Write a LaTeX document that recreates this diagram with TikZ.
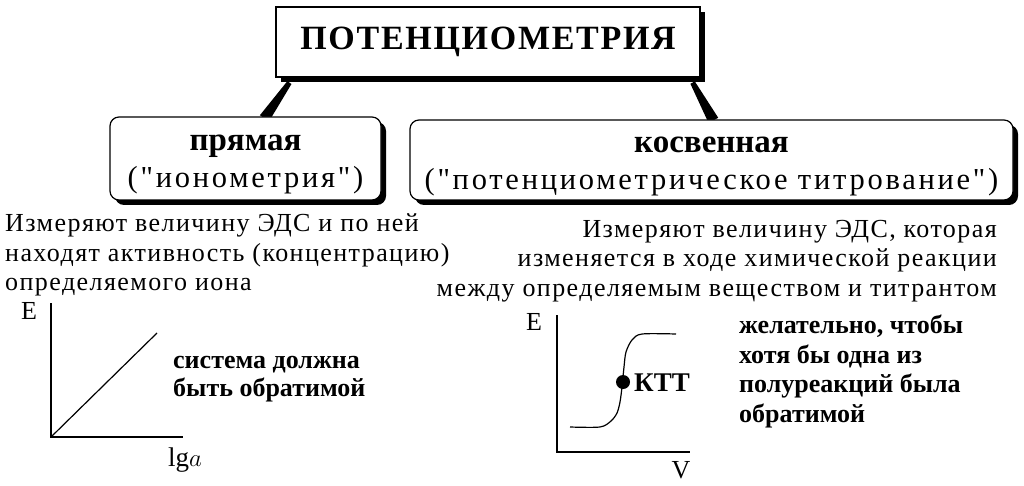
\documentclass[tikz,border=0pt]{standalone}
\usepackage{fontspec}
\setmainfont{Liberation Serif}
\newfontfamily\wideserif[LetterSpace=5.5]{Liberation Serif}
\newfontfamily\boxserif[LetterSpace=9]{Liberation Serif}
\newfontfamily\titleserif[LetterSpace=5]{Liberation Serif}
\usetikzlibrary{shadows, calc, backgrounds}

% tapered stem from the title down to a box
\newcommand{\stemwedge}[2]{%
  \fill ($(#1)!2.5pt!90:(#2)$) -- ($(#1)!2.5pt!-90:(#2)$)
     -- ($(#2)!5.5pt!90:(#1)$) -- ($(#2)!5.5pt!-90:(#1)$) -- cycle;}

\begin{document}
\begin{tikzpicture}[x=1pt, y=-1pt,
  box/.style={draw, line width=1.2pt, fill=white, inner sep=0pt,
    general shadow={fill=black, shadow xshift=5pt, shadow yshift=-5pt}},
  subbox/.style={box, rounded corners=9pt, align=center,
    font=\fontsize{30.5}{37}\selectfont\boxserif},
  axis/.style={line width=1.6pt},
  curve/.style={line width=1.2pt}]
  \useasboundingbox (0,0) rectangle (1024,486);

  \node[box, minimum width=424pt, minimum height=70pt] (title) at (488,42)
    {\fontsize{34}{40}\selectfont\titleserif\bfseries ПОТЕНЦИОМЕТРИЯ};

  \node[subbox, minimum width=271pt, minimum height=83pt] (direct) at (245.5,158.5)
    {\rule{0pt}{28pt}{\fontsize{33}{37}\selectfont\rmfamily\bfseries прямая}\\ ("ионометрия")};
  \node[subbox, minimum width=603pt, minimum height=80pt] (indirect) at (711.5,160)
    {\rule{0pt}{28pt}{\fontsize{33}{37}\selectfont\rmfamily\bfseries косвенная}\\ ("потенциометрическое титрование")};

  \coordinate (stemA) at ($(title.south west)+(14,5)$);
  \coordinate (stemB) at ($(direct.north west)+(155,2)$);
  \coordinate (stemC) at ($(title.south east)+(-8,5)$);
  \coordinate (stemD) at ($(indirect.north west)+(304,1)$);
  \begin{scope}[on background layer]
    \stemwedge{stemA}{stemB}
    \stemwedge{stemC}{stemD}
  \end{scope}

  \node[anchor=north west, align=left, inner sep=0pt, font=\fontsize{26}{29.5}\selectfont\wideserif]
    (directtext) at (5,214)
    {Измеряют величину ЭДС и по ней\\ находят активность (концентрацию)\\ определяемого иона};
  \node[anchor=north east, align=right, inner sep=0pt, font=\fontsize{26}{29.5}\selectfont\wideserif]
    (indirecttext) at (997,220)
    {Измеряют величину ЭДС, которая\\ изменяется в ходе химической реакции\\ между определяемым веществом и титрантом};

  % E -- lg a
  \coordinate (o1) at (51,437);
  \draw[axis] (51,303) -- (o1) -- (183,437);
  \draw[curve] (o1) -- (157,333);
  \node[font=\fontsize{26}{30}\selectfont] (e1) at (29,311) {E};
  \node[font=\fontsize{27}{30}\selectfont] (lga) at (185,460) {lg$a$};
  \node[anchor=west, align=left, inner sep=0pt, font=\fontsize{26}{27.5}\selectfont\bfseries]
    (reversible) at (173,379) {система должна\\ быть обратимой};

  % E -- V
  \coordinate (o2) at (557,452);
  \draw[axis] (557,315) -- (o2) -- (690,452);
  \draw[curve] plot [smooth, tension=0.5] coordinates {
    (570,427) (600,427) (611,421) (617,413) (620,402) (622,387) (624,367)
    (626,352) (632,340) (642,334) (676,334) };
  \fill (623,382) circle (7pt);
  \node[anchor=west, inner sep=0pt, font=\fontsize{27}{30}\selectfont\bfseries] (ktt) at (634,383) {КТТ};
  \node[font=\fontsize{26}{30}\selectfont] (e2) at (534,322) {E};
  \node[font=\fontsize{26}{30}\selectfont] (v) at (681,470) {V};
  \node[anchor=west, align=left, inner sep=0pt, font=\fontsize{26}{29.5}\selectfont\bfseries]
    (halfreaction) at (739,371.5)
    {желательно, чтобы\\ хотя бы одна из\\ полуреакций была\\ обратимой};
\end{tikzpicture}
\end{document}
